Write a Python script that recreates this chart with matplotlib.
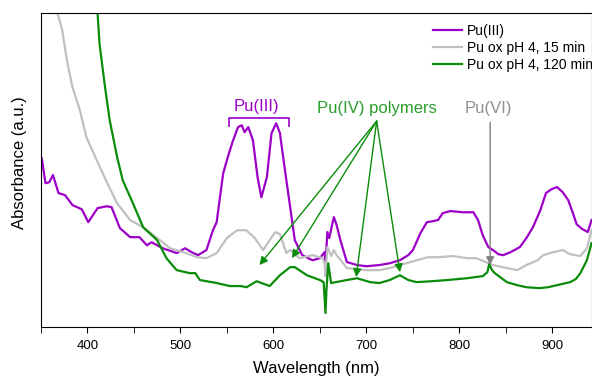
import numpy as np
import matplotlib
matplotlib.use('Agg')
import matplotlib.pyplot as plt
from matplotlib.ticker import MultipleLocator

plt.rcParams['font.family'] = ['Liberation Sans', 'DejaVu Sans']

# Pu(III)
wl_pu3 = [351, 355, 359, 363, 369, 376, 384, 394, 401, 411, 421, 426, 435, 446, 451, 456,
          464, 469, 481, 496, 505, 512, 519, 528, 535, 539, 546, 551, 556, 562, 566, 569,
          573, 578, 583, 587, 593, 598, 603, 607, 612, 618, 623, 631, 642, 650, 655, 656,
          658, 660, 665, 668, 672, 679, 690, 700, 714, 725, 736, 745, 750, 758, 765, 771,
          777, 782, 790, 804, 815, 820, 825, 831, 836, 842, 847, 855, 865, 872, 879, 887,
          893, 899, 905, 911, 917, 922, 926, 932, 938, 942]
abs_pu3 = [0.563, 0.480, 0.483, 0.507, 0.447, 0.440, 0.407, 0.393, 0.350, 0.397, 0.403, 0.400,
           0.330, 0.300, 0.300, 0.300, 0.273, 0.283, 0.263, 0.247, 0.263, 0.250, 0.240, 0.257,
           0.323, 0.350, 0.513, 0.567, 0.617, 0.667, 0.673, 0.650, 0.667, 0.623, 0.500, 0.433,
           0.500, 0.647, 0.680, 0.647, 0.533, 0.400, 0.290, 0.240, 0.223, 0.230, 0.250, 0.207,
           0.317, 0.297, 0.367, 0.340, 0.290, 0.217, 0.207, 0.203, 0.207, 0.213, 0.223, 0.240,
           0.257, 0.313, 0.350, 0.353, 0.357, 0.380, 0.387, 0.383, 0.383, 0.357, 0.307, 0.267,
           0.257, 0.243, 0.240, 0.250, 0.267, 0.297, 0.333, 0.390, 0.447, 0.460, 0.467, 0.450,
           0.423, 0.380, 0.343, 0.327, 0.317, 0.357]

# Pu ox pH 4, 15 min
wl_15 = [352, 360, 368, 373, 378, 384, 392, 399, 410, 421, 432, 446, 460, 475, 489, 503,
         518, 528, 539, 550, 561, 571, 580, 589, 596, 602, 607, 614, 618, 628, 642, 653,
         655, 656, 658, 662, 665, 668, 679, 700, 714, 725, 736, 754, 766, 776, 793, 808,
         818, 836, 851, 862, 872, 884, 890, 901, 911, 919, 930, 937, 942]
abs_15 = [1.35, 1.15, 1.047, 0.990, 0.890, 0.800, 0.723, 0.633, 0.557, 0.483, 0.413, 0.357,
          0.333, 0.297, 0.263, 0.250, 0.233, 0.230, 0.247, 0.297, 0.323, 0.323, 0.297, 0.257,
          0.290, 0.317, 0.310, 0.247, 0.257, 0.230, 0.240, 0.230, 0.213, 0.170, 0.267, 0.237,
          0.257, 0.240, 0.197, 0.190, 0.190, 0.197, 0.207, 0.223, 0.233, 0.233, 0.237, 0.230,
          0.230, 0.207, 0.197, 0.190, 0.207, 0.223, 0.240, 0.250, 0.257, 0.243, 0.237, 0.263,
          0.323]

# Pu ox pH 4, 120 min
wl_120 = [400, 408, 411, 413, 419, 424, 432, 438, 449, 460, 475, 485, 496, 510, 516, 521,
          539, 553, 565, 571, 582, 596, 607, 618, 623, 636, 650, 654, 656, 657, 659, 662,
          679, 690, 704, 714, 725, 736, 745, 754, 770, 787, 808, 825, 830, 832, 835, 838,
          851, 862, 872, 886, 895, 905, 919, 925, 930, 937, 942]
abs_120 = [1.20, 1.08, 1.047, 0.947, 0.800, 0.690, 0.567, 0.490, 0.413, 0.333, 0.290, 0.230,
           0.190, 0.180, 0.180, 0.157, 0.147, 0.137, 0.137, 0.133, 0.153, 0.137, 0.173, 0.200,
           0.200, 0.173, 0.157, 0.150, 0.047, 0.123, 0.213, 0.147, 0.157, 0.163, 0.150, 0.147,
           0.157, 0.173, 0.157, 0.150, 0.153, 0.157, 0.163, 0.170, 0.183, 0.210, 0.190, 0.180,
           0.150, 0.140, 0.133, 0.130, 0.133, 0.140, 0.150, 0.160, 0.180, 0.223, 0.280]

labels = ['Pu(III)', 'Pu ox pH 4, 15 min', 'Pu ox pH 4, 120 min']
purple = '#9C00C8'
grey = '#C0C0C0'
green = '#0A8C0A'

fig = plt.figure(figsize=(5.92, 3.76), dpi=100)
ax = fig.add_axes([0.069, 0.130, 0.931, 0.835])

ax.plot(wl_pu3, abs_pu3, color=purple, lw=1.6, label=labels[0])
ax.plot(wl_15, abs_15, color=grey, lw=1.6, label=labels[1])
ax.plot(wl_120, abs_120, color=green, lw=1.6, label=labels[2])

ax.set_xlim(350, 942.5)
ax.set_ylim(0, 1.047)
ax.xaxis.set_major_locator(MultipleLocator(100))
ax.xaxis.set_minor_locator(MultipleLocator(50))
ax.tick_params(axis='x', which='both', direction='out', length=4.5, pad=4.5, labelsize=9.5)
ax.set_yticks([])
ax.set_xlabel('Wavelength (nm)', fontsize=12, labelpad=7)
ax.set_ylabel('Absorbance (a.u.)', fontsize=12)
ax.yaxis.set_label_coords(-0.025, 0.525)

ax.legend(loc='upper left', fontsize=10, frameon=False, handlelength=2.1,
          handletextpad=0.36, labelspacing=0.2, borderaxespad=0.0, borderpad=0.0,
          bbox_to_anchor=(0.711, 0.965))

# Pu(III) bracket
ax.plot([552, 552, 617, 617], [0.670, 0.697, 0.697, 0.670], color=purple, lw=1.2)
ax.text(582, 0.735, 'Pu(III)', color=purple, fontsize=12, ha='center', va='center')

# Pu(IV) polymers
ax.text(711, 0.730, 'Pu(IV) polymers', color='#2A9E2A', fontsize=12, ha='center', va='center')
tips = [(585, 0.207), (620, 0.230), (689, 0.167), (736, 0.183)]
for tx, ty in tips:
    ax.annotate('', xy=(tx, ty), xytext=(711, 0.687),
                arrowprops=dict(arrowstyle='-|>', color=green, lw=1.0,
                                mutation_scale=12, shrinkA=0, shrinkB=0))

# Pu(VI)
ax.text(831, 0.730, 'Pu(VI)', color='#909090', fontsize=12, ha='center', va='center')
ax.annotate('', xy=(833, 0.207), xytext=(833, 0.683),
            arrowprops=dict(arrowstyle='-|>', color='#808080', lw=1.0,
                            mutation_scale=12, shrinkA=0, shrinkB=0))

fig.savefig('out.png', dpi=100)
